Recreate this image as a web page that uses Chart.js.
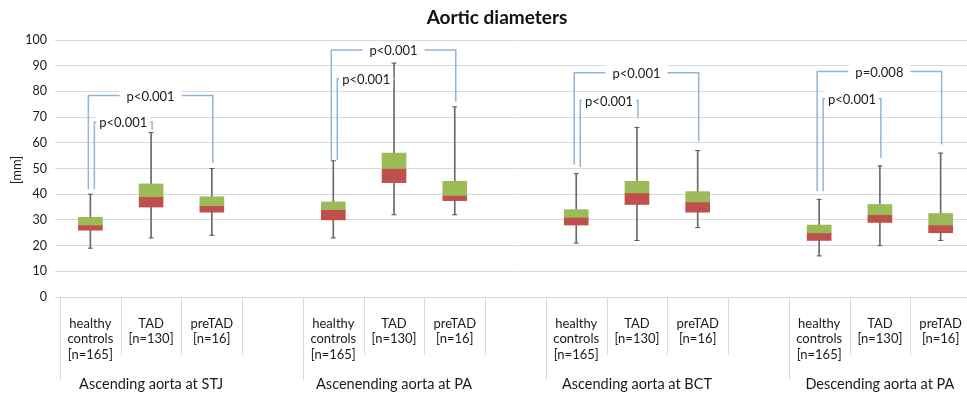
<!DOCTYPE html>
<html><head><meta charset="utf-8">
<script src="https://cdn.jsdelivr.net/npm/chart.js@4"></script>
<style>html,body{margin:0;padding:0;overflow:hidden;background:#fff}#wrap{width:976px;height:394px}</style>
</head><body><div id="wrap"><canvas id="c" width="976" height="394"></canvas></div>
<script>
const chartTitle = 'Aortic diameters';
const yTitle = '[mm]';
const categories = [
  ['healthy','controls','[n=165]'], ['TAD','[n=130]'], ['preTAD','[n=16]'], '',
  ['healthy','controls','[n=165]'], ['TAD','[n=130]'], ['preTAD','[n=16]'], '',
  ['healthy','controls','[n=165]'], ['TAD','[n=130]'], ['preTAD','[n=16]'], '',
  ['healthy','controls','[n=165]'], ['TAD','[n=130]'], ['preTAD','[n=16]']
];
const groups = ['Ascending aorta at STJ','Ascenending aorta at PA','Ascending aorta at BCT','Descending aorta at PA'];
const minVals = [19,23,24,null, 23,32,32,null, 21,22,27,null, 16,20,22];
const q1Vals  = [26,35,33,null, 30,44.5,37.5,null, 28,36,33,null, 22,29,25];
const medVals = [28,39,35.5,null, 34,50,39.5,null, 31,40.5,37,null, 25,32,28];
const q3Vals  = [31,44,39,null, 37,56,45,null, 34,45,41,null, 28,36,32.5];
const maxVals = [40,64,50,null, 53,91,74,null, 48,66,57,null, 38,51,56];
const yTicks = [0,10,20,30,40,50,60,70,80,90,100];

const bracketFrom   = [0,0, 4,4, 8,8, 12,12];
const bracketTo     = [2,1, 6,5, 10,9, 14,13];
const bracketLevel  = [78.4,68.1, 96.1,84.9, 87.3,76.5, 87.7,77.1];
const bracketLeftEnd  = [41.8,41.8, 53.4,53.4, 51.5,50.6, 41.1,41.1];
const bracketRightEnd = [52.1,65.1, 76.1,84.9, 60.5,69.6, 59.3,54.1];
const bracketLabels = ['p<0.001','p<0.001','p<0.001','p<0.001','p<0.001','p<0.001','p=0.008','p<0.001'];

const FONT = 'Lato, "Open Sans", sans-serif';
const TXT = '#1a1a1a';

const lowerBox = categories.map((c,i)=> q1Vals[i]==null?null:[q1Vals[i],medVals[i]]);
const upperBox = categories.map((c,i)=> q3Vals[i]==null?null:[medVals[i],q3Vals[i]]);
const whisker  = categories.map((c,i)=> minVals[i]==null?null:[minVals[i],maxVals[i]]);

const decor = {
  id:'decor',
  afterDraw(chart){
    const {ctx, chartArea:ca, scales:{x,y}} = chart;
    const half = (x.getPixelForValue(1)-x.getPixelForValue(0))/2;
    ctx.save();
    ctx.strokeStyle='#d9d9d9'; ctx.lineWidth=1;
    for(let i=0;i<=categories.length;i++){
      const raw = i<categories.length ? x.getPixelForValue(i)-half : x.getPixelForValue(i-1)+half;
      const px = Math.round(raw)+0.5;
      const isGroup = (i%4===0) || i===categories.length;
      ctx.beginPath(); ctx.moveTo(px, ca.bottom); ctx.lineTo(px, ca.bottom + (isGroup?83:58)); ctx.stroke();
    }
    ctx.fillStyle=TXT; ctx.font='14.5px '+FONT; ctx.textAlign='center'; ctx.textBaseline='middle';
    groups.forEach((g,k)=>{
      const cx=(x.getPixelForValue(4*k)+x.getPixelForValue(4*k+2))/2;
      ctx.fillText(g,cx,384);
    });
    ctx.strokeStyle='#95b3d7'; ctx.lineWidth=1.5;
    ctx.font='13px '+FONT;
    bracketLabels.forEach((lab,k)=>{
      const inner = bracketTo[k]-bracketFrom[k]===1;
      const xl = x.getPixelForValue(bracketFrom[k]) + (inner?4:-2);
      const xr = x.getPixelForValue(bracketTo[k]) + 1;
      const yt = y.getPixelForValue(bracketLevel[k]);
      ctx.beginPath();
      ctx.moveTo(xl, y.getPixelForValue(bracketLeftEnd[k]));
      ctx.lineTo(xl, yt); ctx.lineTo(xr, yt);
      ctx.lineTo(xr, y.getPixelForValue(bracketRightEnd[k]));
      ctx.stroke();
      const mx=(xl+xr)/2; const w=ctx.measureText(lab).width;
      const pad = inner?3:7;
      ctx.fillStyle='#fff'; ctx.fillRect(mx-w/2-pad, yt-8, w+2*pad, 16);
      ctx.fillStyle=TXT; ctx.fillText(lab, mx, yt+1);
    });
    ctx.font='bold 19px '+FONT; ctx.fillStyle='#111';
    ctx.fillText(chartTitle, 497, 18);
    ctx.translate(17,170); ctx.rotate(-Math.PI/2);
    ctx.font='13px '+FONT; ctx.fillStyle=TXT;
    ctx.fillText(yTitle,0,0);
    ctx.restore();
  }
};

new Chart(document.getElementById('c'), {
  type:'bar',
  data:{
    labels: categories,
    datasets:[
      {type:'line', label:'min', data:minVals, showLine:false, pointStyle:'line', pointRadius:2.5, borderColor:'#595959', borderWidth:1, order:2},
      {type:'line', label:'max', data:maxVals, showLine:false, pointStyle:'line', pointRadius:2.5, borderColor:'#595959', borderWidth:1, order:2},
      {label:'Q3', data:upperBox, backgroundColor:'#9bbb59', barThickness:24, grouped:false, order:1},
      {label:'Q1', data:lowerBox, backgroundColor:'#c0504d', barThickness:24, grouped:false, order:1},
      {label:'range', data:whisker, backgroundColor:'#6a6a6a', barThickness:1, grouped:false, order:3}
    ]
  },
  options:{
    responsive:false, animation:false,
    layout:{padding:{top:40,left:0,right:0,bottom:0}},
    plugins:{legend:{display:false}, tooltip:{enabled:false}, title:{display:false}},
    scales:{
      x:{
        grid:{display:false},
        border:{display:false},
        ticks:{autoSkip:false, maxRotation:0, minRotation:0, padding:11, color:TXT, font:{family:FONT, size:13, lineHeight:1.18}},
        afterFit(s){ s.height=97; }
      },
      y:{
        min:0, max:100,
        afterBuildTicks(s){ s.ticks = yTicks.map(v=>({value:v})); },
        grid:{color:'#d9d9d9', tickLength:5, tickColor:'#d9d9d9'},
        border:{display:false},
        ticks:{padding:8, color:TXT, font:{family:FONT, size:12.5}},
        afterFit(s){ s.width=60; }
      }
    }
  },
  plugins:[decor]
});
</script>
</body></html>
